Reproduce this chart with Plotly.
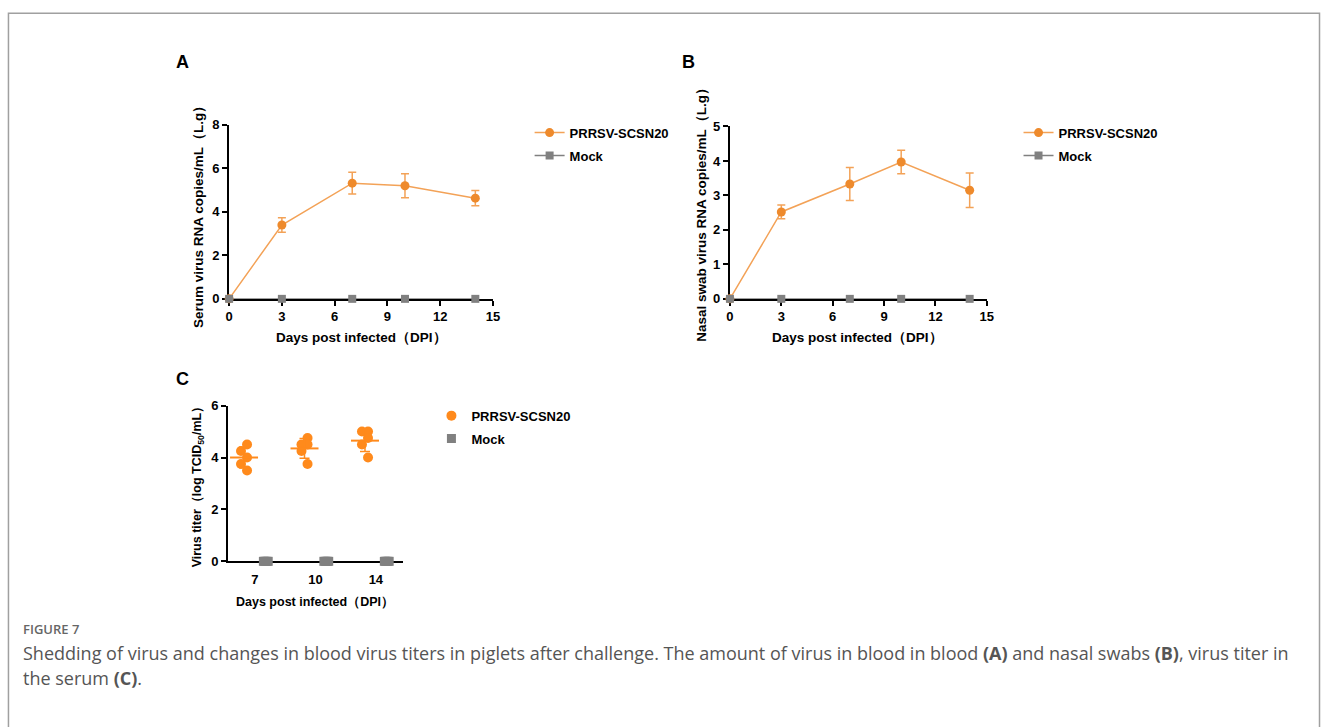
import numpy as np
import plotly.graph_objects as go

W, H = 1328, 727

# ---------------- data ----------------
days = [0, 3, 7, 10, 14]
serum_prrsv = [0, 3.39, 5.31, 5.19, 4.62]
serum_prrsv_sd = [0, 0.33, 0.50, 0.55, 0.35]
serum_mock = [0, 0, 0, 0, 0]

nasal_prrsv = [0, 2.52, 3.33, 3.97, 3.15]
nasal_prrsv_sd = [0, 0.20, 0.48, 0.34, 0.50]
nasal_mock = [0, 0, 0, 0, 0]

titer_days = ["7", "10", "14"]
titer_prrsv = [[4.5, 4.25, 4.0, 3.75, 3.5],
               [4.75, 4.5, 4.5, 4.25, 3.75],
               [5.0, 5.0, 4.75, 4.5, 4.0]]
titer_mock = [[0, 0, 0, 0, 0], [0, 0, 0, 0, 0], [0, 0, 0, 0, 0]]

series_names = ["PRRSV-SCSN20", "Mock"]

# ---------------- style ----------------
ORANGE = "#EE8A2C"
ORANGE_LINE = "#F3A257"
ORANGE_C = "#FF8A1C"
GRAY = "#808080"
AX_FONT = "Liberation Sans, Arial, sans-serif"


def px(p):
    return p / W


def py(p):
    return 1 - p / H


fig = go.Figure()

axis_common = dict(showline=True, linecolor="black", linewidth=2, ticks="outside",
                   ticklen=5, tickwidth=2, tickcolor="black", showgrid=False,
                   zeroline=False, layer="below traces",
                   tickfont=dict(family=AX_FONT, size=13, color="black", weight="bold"))


def line_panel(xa, ya, legend, yp, ysd, ym):
    fig.add_trace(go.Scatter(
        x=days, y=yp, name=series_names[0], mode="lines+markers",
        xaxis=xa, yaxis=ya, legend=legend, legendgroup=legend + "p", cliponaxis=False,
        line=dict(color=ORANGE_LINE, width=1.5),
        marker=dict(symbol="circle", size=9, color=ORANGE),
        error_y=dict(type="data", array=ysd, color=ORANGE_LINE, thickness=1.5, width=4)))
    fig.add_trace(go.Scatter(
        x=days, y=ym, name=series_names[1], mode="lines+markers",
        xaxis=xa, yaxis=ya, legend=legend, legendgroup=legend + "m", cliponaxis=False,
        line=dict(color=GRAY, width=1.5),
        marker=dict(symbol="square", size=8, color=GRAY)))


line_panel("x", "y", "legend", serum_prrsv, serum_prrsv_sd, serum_mock)
line_panel("x2", "y2", "legend2", nasal_prrsv, nasal_prrsv_sd, nasal_mock)

# ---------------- panel C ----------------
off_p, off_m = -0.18, 0.18
cx, cy = [], []
means, sds, mx = [], [], []
for i, vals in enumerate(titer_prrsv):
    for k, v in enumerate(vals):
        cx.append(i + off_p + (0.05 if k % 2 == 0 else -0.05))
        cy.append(v)
    means.append(float(np.mean(vals)))
    sds.append(float(np.std(vals, ddof=1)))
    mx.append(i + off_p)

mkx, mky = [], []
for i, vals in enumerate(titer_mock):
    n = len(vals)
    for k, v in enumerate(vals):
        mkx.append(i + off_m + (k - (n - 1) / 2) * 0.02)
        mky.append(v)

fig.add_trace(go.Scatter(
    x=cx, y=cy, name=series_names[0], mode="markers", xaxis="x3", yaxis="y3",
    legend="legend3", legendgroup="cp", cliponaxis=False,
    marker=dict(symbol="circle", size=10, color=ORANGE_C)))
fig.add_trace(go.Scatter(
    x=mkx, y=mky, name=series_names[1], mode="markers", xaxis="x3", yaxis="y3",
    legend="legend3", legendgroup="cm", cliponaxis=False,
    marker=dict(symbol="square", size=9, color=GRAY)))
fig.add_trace(go.Scatter(
    x=mx, y=means, mode="markers", xaxis="x3", yaxis="y3", showlegend=False,
    cliponaxis=False,
    marker=dict(symbol="line-ew-open", size=20, color=ORANGE_C,
                line=dict(color=ORANGE_C, width=2)),
    error_y=dict(type="data", array=sds, color=ORANGE_C, thickness=1.5, width=5)))

# ---------------- layout ----------------
layout = dict(
    width=W, height=H, margin=dict(l=0, r=0, t=0, b=0),
    paper_bgcolor="white", plot_bgcolor="white",
    xaxis=dict(domain=[px(227), px(493)], range=[0, 15], tickvals=[0, 3, 6, 9, 12, 15],
               anchor="y", **axis_common),
    yaxis=dict(domain=[py(298), py(120)], range=[0, 8], tickvals=[0, 2, 4, 6, 8],
               anchor="x", **axis_common),
    xaxis2=dict(domain=[px(732), px(991)], range=[0, 15], tickvals=[0, 3, 6, 9, 12, 15],
                anchor="y2", **axis_common),
    yaxis2=dict(domain=[py(298), py(122)], range=[0, 5], tickvals=[0, 1, 2, 3, 4, 5],
                anchor="x2", **axis_common),
    xaxis3=dict(domain=[px(226), px(402)], range=[-0.443, 2.443], tickvals=[0, 1, 2],
                ticktext=titer_days, anchor="y3",
                **{**axis_common, "tickcolor": "rgba(0,0,0,0)"}),
    yaxis3=dict(domain=[py(566), py(407)], range=[0, 6], tickvals=[0, 2, 4, 6],
                anchor="x3", **axis_common),
    showlegend=True,
)
leg_font = dict(family=AX_FONT, size=13, color="black", weight="bold")
for name, lx, ly in [("legend", 530, 113), ("legend2", 1023, 113), ("legend3", 431, 402)]:
    layout[name] = dict(x=px(lx), y=py(ly), xanchor="left", yanchor="top",
                        font=leg_font, bgcolor="rgba(0,0,0,0)", tracegroupgap=3,
                        traceorder="grouped")
fig.update_layout(**layout)

ann = []
title_font = dict(family=AX_FONT, size=13.5, color="black", weight="bold")
# axis titles
ann.append(dict(x=px(360), y=py(337), text="Days post infected（DPI）", font=title_font))
ann.append(dict(x=px(861), y=py(337), text="Days post infected（DPI）", font=title_font))
ann.append(dict(x=px(314), y=py(608), text="Days post infected（DPI）",
                font=dict(title_font, size=12.5)))
ann.append(dict(x=px(196), y=py(211), text="Serum virus RNA copies/mL（L.g）",
                textangle=-90, font=title_font))
ann.append(dict(x=px(704), y=py(209), text="Nasal swab virus RNA copies/mL（L.g）",
                textangle=-90, font=title_font))
ann.append(dict(x=px(196), y=py(487), text="Virus titer（log TCID<sub>50</sub>/mL）",
                textangle=-90, font=dict(title_font, size=12.5)))
# panel letters
for lab, x0, y0 in [("A", 180, 56), ("B", 690, 56), ("C", 180, 380)]:
    ann.append(dict(x=px(x0), y=py(y0), text=lab,
                    font=dict(family=AX_FONT, size=18, color="black", weight="bold")))
for a in ann:
    a.update(xref="paper", yref="paper", showarrow=False, xanchor="center", yanchor="middle")

cap_font = dict(family="Open Sans, sans-serif", size=18, color="#555555")
ann.append(dict(x=px(17), y=py(635), text="FIGURE 7", xref="paper", yref="paper",
                showarrow=False, xanchor="left", yanchor="middle",
                font=dict(family="Open Sans, sans-serif", size=13, color="#666666",
                          weight=600)))
ann.append(dict(x=px(17), y=py(660),
                text="Shedding of virus and changes in blood virus titers in piglets after challenge. "
                     "The amount of virus in blood in blood <b>(A)</b> and nasal swabs <b>(B)</b>, "
                     "virus titer in",
                xref="paper", yref="paper", showarrow=False, xanchor="left",
                yanchor="middle", font=cap_font))
ann.append(dict(x=px(17), y=py(685), text="the serum <b>(C)</b>.", xref="paper",
                yref="paper", showarrow=False, xanchor="left", yanchor="middle",
                font=cap_font))
fig.update_layout(annotations=ann)

fig.add_shape(type="rect", xref="paper", yref="paper", x0=px(4.5), x1=px(1326.5),
              y0=py(760), y1=py(6.5), line=dict(color="#A0A0A0", width=1.5),
              fillcolor="rgba(0,0,0,0)", layer="below")

fig.write_html("out.html", config={"displayModeBar": False},
               post_script="document.body.style.margin='0';document.body.style.overflow='hidden';")
